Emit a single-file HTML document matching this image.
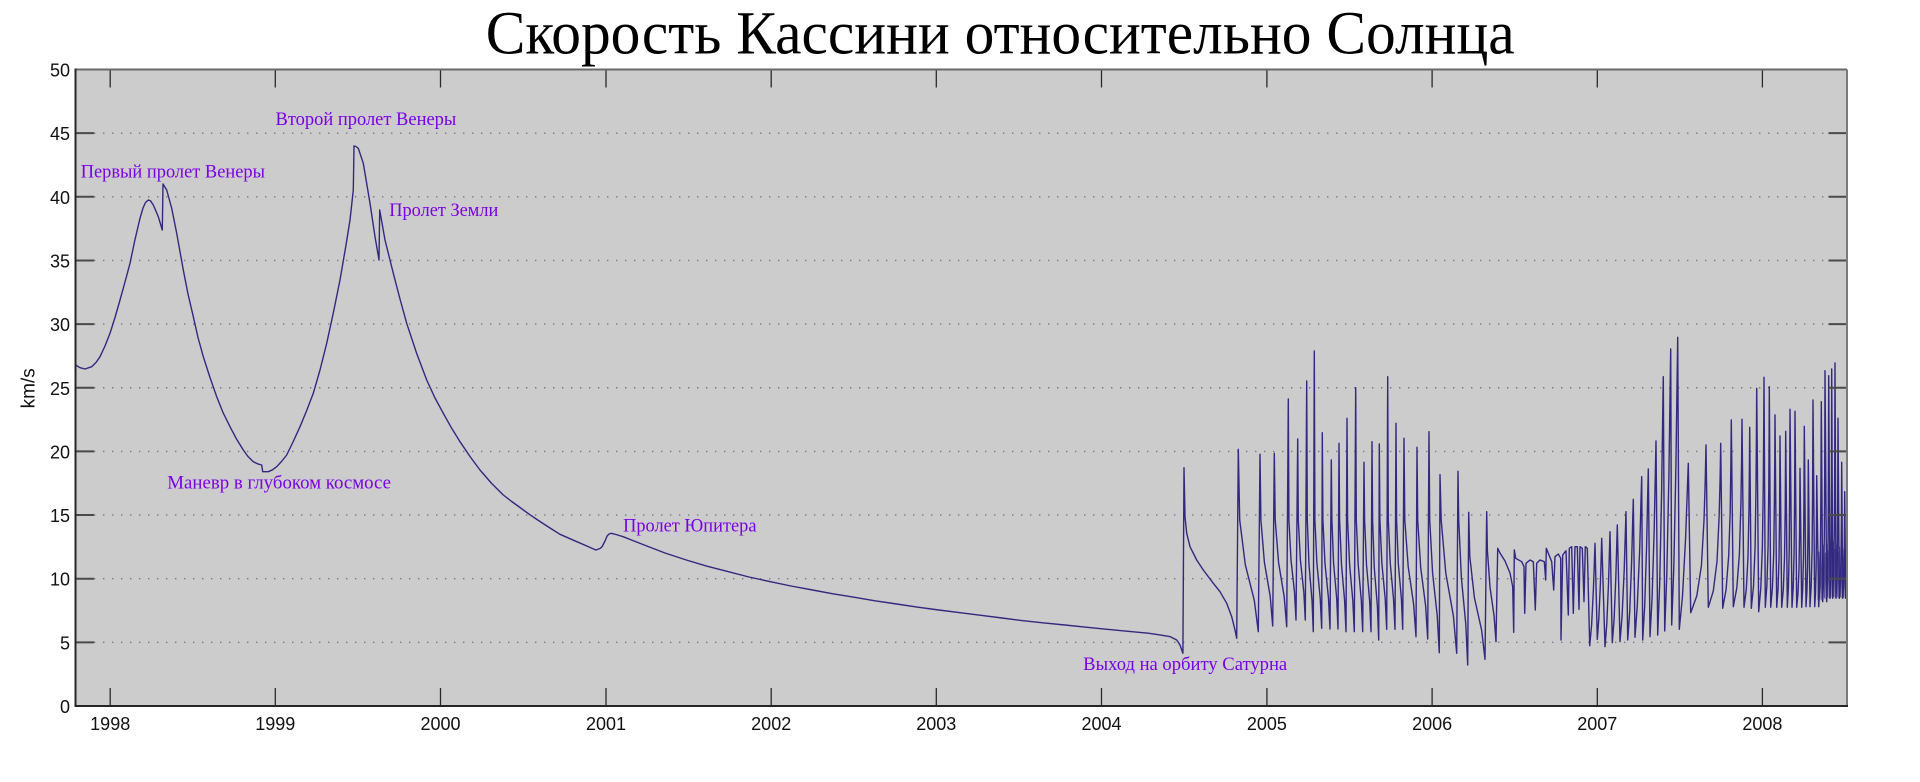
<!DOCTYPE html>
<html>
<head>
<meta charset="utf-8">
<style>
html,body{margin:0;padding:0;background:#ffffff;}
svg{display:block;}
</style>
</head>
<body>
<svg xmlns="http://www.w3.org/2000/svg" width="1920" height="782" viewBox="0 0 1920 782">
<defs>
<clipPath id="pc"><rect x="75.5" y="69.5" width="1771.5" height="636.5"/></clipPath>
</defs>
<rect x="0" y="0" width="1920" height="782" fill="#ffffff"/>
<text x="485.7" y="53.3" font-family="'Liberation Serif', serif" font-size="61" fill="#000" textLength="1029" lengthAdjust="spacingAndGlyphs">Скорость Кассини относительно Солнца</text>

<rect x="75.5" y="69.5" width="1771.5" height="636.5" fill="#cccccc"/>

<!-- grid -->
<g stroke="#7a7a7a" stroke-width="1.4" stroke-dasharray="1.4 7.6" fill="none">
<line x1="76" y1="642.35" x2="1847" y2="642.35"/>
<line x1="76" y1="578.7" x2="1847" y2="578.7"/>
<line x1="76" y1="515.05" x2="1847" y2="515.05"/>
<line x1="76" y1="451.4" x2="1847" y2="451.4"/>
<line x1="76" y1="387.75" x2="1847" y2="387.75"/>
<line x1="76" y1="324.1" x2="1847" y2="324.1"/>
<line x1="76" y1="260.45" x2="1847" y2="260.45"/>
<line x1="76" y1="196.8" x2="1847" y2="196.8"/>
<line x1="76" y1="133.15" x2="1847" y2="133.15"/>
</g>

<!-- data -->
<g clip-path="url(#pc)" fill="none" stroke="#33287f" stroke-width="1.4" stroke-linejoin="round">
<polyline points="75.7,365 80,367.7 85,369 91.7,366.7 96,362.5 100,356.7 105,346 110,333.3 115,317.5 120,300 125,282 130,263.3 135,239.5 140,218.3 143,208 145.5,202.5 148.3,200 150.5,200.8 153.3,205 158.3,216.7 162.3,230 163,184 166.7,190 171.7,208.3 176.7,233.3 183.3,270 188,294 193.3,316.7 198,337.5 203.3,356.7 210,377.5 216.7,396.7 223,412.5 230,426.7 236.5,439 243.3,450 248,456.5 253.3,461.7 257.5,463.8 261.7,465 262.7,471.7 268.3,471.7 272.5,469.8 276.7,466.7 281.5,461.5 286.7,455 293,442 300,426.7 306.5,411 313.3,393.3 320,370 326.7,343.3 333.3,313 340,280 346,245 350,220 353.3,190 354,146 356,146.5 358.3,148.3 363.3,163.3 370,203.3 375,236.7 379,260 379.7,210 385,240 393.3,273.3 400,299 406.7,323.3 416.7,353.5 426.7,380 435,398 443.3,413.3 451.7,428.3 460,441.7 470,456.5 480,470 491.7,483.5 503.3,495 511.7,501.5 520,507.5 530,514.8 540,521.5 550,528 560,534.3 576.8,541.7 588,546.5 595.8,550 600,548.5 602.1,546.7 605,541 607.1,536 609,534 611.3,533.3 616,534.5 623.1,536.7 633,540.6 644.2,545 665,553 686.3,560 707,566.2 728.4,571.7 749,577 770.4,581.7 791,586 812.5,590 833,593.8 854.6,597.3 875,600.8 896.7,604 917,607.1 938.8,610 960,612.7 980.9,615.3 1002,618 1023,620.7 1044,622.9 1065,625 1086,627.2 1107.1,629.3 1128,631.3 1149.2,633.3 1160,634.9 1170.3,636.7 1176.7,640 1180,645 1182.9,653.3 1184,467.7
1185,516.7 1186.7,533.3 1190,546.7 1196.7,560 1203.3,570 1213.3,583.3 1220,591.7 1226.7,603.3 1231.7,616.7 1235,630 1236.7,638.3
1238.3,449.3 1239.7,520 1245.3,564.7 1254.3,600.4 1258.3,631.7
1260,454.3 1260.9,520 1264.4,562.4 1270.2,596.3 1272.7,626
1274.3,453.3 1275.2,520 1278.6,562.7 1284.2,596.8 1286.7,626.7
1288.3,399 1288.9,520 1291,560 1294.5,592 1296,620
1297.7,439 1298.3,520 1300.4,560 1303.8,592 1305.3,620
1306.7,381 1307.3,520 1309,564.7 1312,600.4 1313.3,631.7
1314.3,351 1314.9,520 1316.9,563.3 1320.2,598 1321.7,628.3
1322.3,432.7 1322.9,520 1325,563.6 1328.5,598.5 1330,629
1331.3,460 1331.9,520 1333.6,563.6 1336.7,598.5 1338,629
1339,443.3 1339.6,520 1341.5,564.7 1344.6,600.4 1346,631.7
1347,418.3 1347.6,520 1349.6,564.7 1352.8,600.4 1354.3,631.7
1355.7,387.7 1356.3,520 1358.2,564.7 1361.3,600.4 1362.7,631.7
1364,462.3 1364.6,520 1366.5,564.7 1369.6,600.4 1371,631.7
1372,441.7 1372.6,520 1374.3,568 1377.4,606.4 1378.7,640
1379.3,444 1379.9,520 1381.9,563.7 1385.2,598.7 1386.7,629.3
1387.7,376.7 1388.3,520 1390.3,563.7 1393.5,598.7 1395,629.3
1396,423.3 1396.6,520 1398.3,563.7 1401.4,598.7 1402.7,629.3
1404,438.3 1404.8,520 1408.2,566.7 1413.6,604 1416,636.7
1417,447.3 1417.7,520 1420.7,567.6 1425.6,605.7 1427.7,639
1429,431.7 1429.7,520 1432.6,573.1 1437.2,615.5 1439.3,652.7
1440,474.7 1441.2,520 1445.8,573.3 1453.4,616 1456.7,653.3
1458,471.3 1458.7,520 1461.4,578 1465.8,624.4 1467.7,665
1468.7,512.3 1469.8,556.4 1474.4,597.6 1481.7,630.5 1485,659.3
1486.7,511.7 1487.4,550.7 1490,587.1 1494.1,616.2 1496,641.7
1497.7,548.3 1500,553 1505,561 1510,573 1512.7,586.7 1513.7,632.3
1514.3,550 1515.7,558.3 1521.7,561.7 1524,566.7 1524.7,613.3 1526,563.3 1530,560 1533.3,561.7 1535.3,610 1536.7,563.3 1540,560 1544.3,561.7 1545.7,580 1546.3,548.3 1548.3,553.3 1551.7,561.7 1553.7,590 1555,556.7 1558.3,554 1560.7,558.3 1561,640 1562.7,555 1566,550.7 1568.3,615 1569.3,548.3 1571.7,546.7 1573.3,613.3 1575,546.7 1577.3,546.7 1579,609.3 1580,546.7 1582.3,548.3 1584,601.7 1585.3,546.7 1587.3,548.3 1589.7,645.7
1591.6,625.2 1593.4,589.4 1594.5,558.7 1595,543.3 1597.3,639.3
1598.8,619.1 1600.4,583.7 1601.3,553.5 1601.7,538.3 1605,646.7
1606.8,623.7 1608.5,583.5 1609.5,549 1610,531.7 1612.3,642.7
1614.1,619.2 1615.8,578 1616.8,542.7 1617.3,525 1620,641.7
1622.1,615.7 1624.2,570.2 1625.4,531.2 1626,511.7 1627.7,640
1629.7,611.9 1631.6,562.6 1632.7,520.4 1633.3,499.3 1635,637.3
1637.3,605.2 1639.7,549 1641,500.8 1641.7,476.7 1642.7,640
1644.7,605.8 1646.6,546 1647.7,494.7 1648.3,469 1650,636.7
1652.1,597.6 1654.2,529.1 1655.4,470.3 1656,441 1657.7,635
1659.7,583.3 1661.6,492.9 1662.7,415.4 1663.3,376.7 1664.7,631
1666.8,574.6 1668.9,475.9 1670.1,391.3 1670.7,349 1671.7,625
1673.8,567.5 1675.9,466.8 1677.1,380.5 1677.7,337.3 1679.3,629.3
1682.5,596.1 1685.6,538 1687.4,488.2 1688.3,463.3 1690.7,612.7
1696.8,595.9 1701.4,565.7 1704,520.5 1705.2,481.9 1706,445 1708.3,607.3
1713.3,590.9 1717,561.4 1719.1,517.1 1720.1,479.4 1720.7,443.3 1722.7,608.3
1726.1,589.5 1728.7,555.6 1730.2,511.3 1730.9,461.4 1731.3,420 1733.3,606.7
1736.8,588 1739.4,554.2 1740.9,503.6 1741.6,460.5 1742,419.3 1744,607.3
1746.3,589.3 1748,556.9 1749,508.3 1749.4,466.9 1749.7,427.3 1751.3,608.3
1753.5,586.3 1755.1,546.7 1756,487.3 1756.4,436.7 1756.7,388.3 1758.7,611.7
1760.8,588.3 1762.4,546.1 1763.3,482.8 1763.7,428.9 1764,377.3 1765.3,607.3
1766.9,585.2 1768.1,545.5 1768.8,486 1769.1,435.2 1769.3,386.7 1770.7,607.3
1772.4,588.1 1773.7,553.5 1774.4,501.5 1774.8,457.3 1775,415 1776.7,607.3
1778,590.2 1779,559.3 1779.6,513.1 1780,436 1781.7,607.3
1783.3,589.7 1784.5,558 1785.2,510.5 1785.7,431.3 1787.3,607.3
1788.4,587.5 1789.2,551.9 1789.6,498.4 1790,409.3 1792,607.3
1793.2,587.7 1794.1,552.4 1794.6,499.5 1795,411.3 1796.7,607.3
1798,593.4 1799,568.4 1799.6,530.8 1800,468.3 1801.7,607.3
1802.7,589.2 1803.5,556.6 1803.9,507.8 1804.3,426.3 1806,606.7
1806.9,592 1807.6,565.6 1808,526 1808.3,460 1810,606.7
1811.2,586 1812.1,548.8 1812.6,493 1813,400 1814.7,606.7
1815.5,593.6 1816.1,570 1816.4,534.7 1816.7,475.7 1818.7,606.7
1819.7,586.2 1820.5,549.3 1820.9,494 1821.3,401.7 1822.7,601.7
1823.6,578.6 1824.3,537 1824.7,474.7 1825,370.7 1826.7,601.7
1827.5,579.1 1828.1,538.4 1828.4,477.4 1828.7,375.7 1830,598.3
1830.7,575.4 1831.2,534.1 1831.5,472.2 1831.7,369 1832.7,598.3
1833.6,574.8 1834.3,532.4 1834.7,468.9 1835,363 1836,598.3
1836.8,580.3 1837.4,547.9 1837.7,499.3 1838,418.3 1839.3,598.3
1840.3,584.7 1841,560.2 1841.4,523.5 1841.7,462.3 1842.7,598.3
1843.5,587.6 1844.1,568.5 1844.4,539.6 1844.7,491.7 1845.7,598.3
1846.5,575 1847.5,560"/>
<polyline stroke-width="1" opacity="0.75" points="1818,600 1818.8,552 1819.6,598 1820.4,546 1821.2,600 1822,550 1822.8,598 1823.6,545 1824.4,598 1825.2,553 1826,599 1826.8,544 1827.6,597 1828.4,550 1829.2,598 1830,543 1830.8,597 1831.6,548 1832.4,598 1833.2,542 1834,597 1834.8,549 1835.6,598 1836.4,545 1837.2,597 1838,552 1838.8,598 1839.6,547 1840.4,597 1841.2,555 1842,598 1842.8,549 1843.6,597 1844.4,556 1845.2,598 1846,551 1846.8,597"/>
</g>

<!-- annotations -->
<g font-family="'Liberation Serif', serif" font-size="18.5" fill="#7a00e6">
<text x="80.7" y="177.7" textLength="184.3" lengthAdjust="spacingAndGlyphs">Первый пролет Венеры</text>
<text x="275.5" y="125" textLength="180.8" lengthAdjust="spacingAndGlyphs">Второй пролет Венеры</text>
<text x="389.3" y="216" textLength="109" lengthAdjust="spacingAndGlyphs">Пролет Земли</text>
<text x="167.3" y="488.3" textLength="223.7" lengthAdjust="spacingAndGlyphs">Маневр в глубоком космосе</text>
<text x="623.1" y="531.7" textLength="133.4" lengthAdjust="spacingAndGlyphs">Пролет Юпитера</text>
<text x="1083.2" y="670" textLength="204" lengthAdjust="spacingAndGlyphs">Выход на орбиту Сатурна</text>
</g>

<!-- x ticks -->
<g stroke="#2a2a2a" stroke-width="1.3">
<line x1="110.2" y1="706" x2="110.2" y2="688"/><line x1="110.2" y1="69.5" x2="110.2" y2="87.5"/>
<line x1="275.3" y1="706" x2="275.3" y2="688"/><line x1="275.3" y1="69.5" x2="275.3" y2="87.5"/>
<line x1="440.5" y1="706" x2="440.5" y2="688"/><line x1="440.5" y1="69.5" x2="440.5" y2="87.5"/>
<line x1="606" y1="706" x2="606" y2="688"/><line x1="606" y1="69.5" x2="606" y2="87.5"/>
<line x1="771.2" y1="706" x2="771.2" y2="688"/><line x1="771.2" y1="69.5" x2="771.2" y2="87.5"/>
<line x1="936.3" y1="706" x2="936.3" y2="688"/><line x1="936.3" y1="69.5" x2="936.3" y2="87.5"/>
<line x1="1101.5" y1="706" x2="1101.5" y2="688"/><line x1="1101.5" y1="69.5" x2="1101.5" y2="87.5"/>
<line x1="1266.9" y1="706" x2="1266.9" y2="688"/><line x1="1266.9" y1="69.5" x2="1266.9" y2="87.5"/>
<line x1="1432.1" y1="706" x2="1432.1" y2="688"/><line x1="1432.1" y1="69.5" x2="1432.1" y2="87.5"/>
<line x1="1597.3" y1="706" x2="1597.3" y2="688"/><line x1="1597.3" y1="69.5" x2="1597.3" y2="87.5"/>
<line x1="1762.4" y1="706" x2="1762.4" y2="688"/><line x1="1762.4" y1="69.5" x2="1762.4" y2="87.5"/>
</g>

<!-- y ticks -->
<g stroke="#4a4a4a" stroke-width="2">
<line x1="75.5" y1="642.35" x2="94" y2="642.35"/><line x1="1847" y1="642.35" x2="1828.5" y2="642.35"/>
<line x1="75.5" y1="578.7" x2="94" y2="578.7"/><line x1="1847" y1="578.7" x2="1828.5" y2="578.7"/>
<line x1="75.5" y1="515.05" x2="94" y2="515.05"/><line x1="1847" y1="515.05" x2="1828.5" y2="515.05"/>
<line x1="75.5" y1="451.4" x2="94" y2="451.4"/><line x1="1847" y1="451.4" x2="1828.5" y2="451.4"/>
<line x1="75.5" y1="387.75" x2="94" y2="387.75"/><line x1="1847" y1="387.75" x2="1828.5" y2="387.75"/>
<line x1="75.5" y1="324.1" x2="94" y2="324.1"/><line x1="1847" y1="324.1" x2="1828.5" y2="324.1"/>
<line x1="75.5" y1="260.45" x2="94" y2="260.45"/><line x1="1847" y1="260.45" x2="1828.5" y2="260.45"/>
<line x1="75.5" y1="196.8" x2="94" y2="196.8"/><line x1="1847" y1="196.8" x2="1828.5" y2="196.8"/>
<line x1="75.5" y1="133.15" x2="94" y2="133.15"/><line x1="1847" y1="133.15" x2="1828.5" y2="133.15"/>
</g>

<!-- box -->
<line x1="75.5" y1="69.5" x2="1847" y2="69.5" stroke="#6a6a6a" stroke-width="2"/>
<line x1="1847" y1="69.5" x2="1847" y2="706" stroke="#7a7a7a" stroke-width="2"/>
<line x1="75.5" y1="68.5" x2="75.5" y2="707" stroke="#262626" stroke-width="2"/>
<line x1="74.5" y1="706" x2="1848" y2="706" stroke="#262626" stroke-width="2"/>

<!-- y labels -->
<g font-family="'Liberation Sans', sans-serif" font-size="18" fill="#111" text-anchor="end">
<text x="70" y="713">0</text>
<text x="70" y="649.4">5</text>
<text x="70" y="585.7">10</text>
<text x="70" y="522">15</text>
<text x="70" y="458.4">20</text>
<text x="70" y="394.8">25</text>
<text x="70" y="331.1">30</text>
<text x="70" y="267.5">35</text>
<text x="70" y="203.8">40</text>
<text x="70" y="140.2">45</text>
<text x="70" y="76.5">50</text>
</g>

<!-- x labels -->
<g font-family="'Liberation Sans', sans-serif" font-size="18" fill="#111" text-anchor="middle">
<text x="110.2" y="730">1998</text>
<text x="275.3" y="730">1999</text>
<text x="440.5" y="730">2000</text>
<text x="606" y="730">2001</text>
<text x="771.2" y="730">2002</text>
<text x="936.3" y="730">2003</text>
<text x="1101.5" y="730">2004</text>
<text x="1266.9" y="730">2005</text>
<text x="1432.1" y="730">2006</text>
<text x="1597.3" y="730">2007</text>
<text x="1762.4" y="730">2008</text>
</g>

<text transform="translate(34.5,388.3) rotate(-90)" font-family="'Liberation Sans', sans-serif" font-size="19" fill="#111" text-anchor="middle">km/s</text>
</svg>
</body>
</html>
